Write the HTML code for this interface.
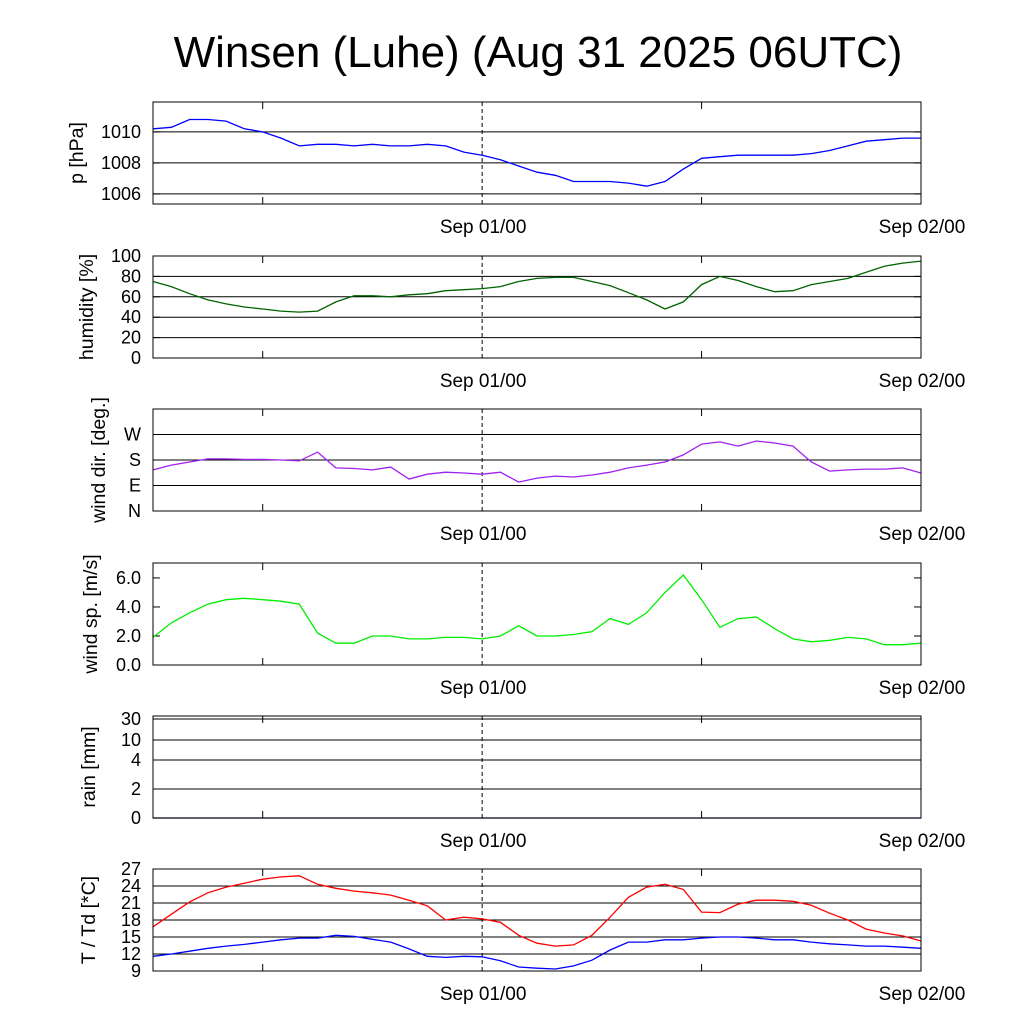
<!DOCTYPE html>
<html><head><meta charset="utf-8"><style>
body{margin:0;background:#fff}
svg{display:block;font-family:"Liberation Sans",sans-serif}
</style></head><body>
<svg id="c" width="1024" height="1024" viewBox="0 0 1024 1024">
<text x="538" y="67" font-size="44" text-anchor="middle">Winsen (Luhe) (Aug 31 2025 06UTC)</text>
</svg>
<script>
const hours=[0,1,2,3,4,5,6,7,8,9,10,11,12,13,14,15,16,17,18,19,20,21,22,23,24,25,26,27,28,29,30,31,32,33,34,35,36,37,38,39,40,41,42];
const xTickLabels=["Sep 01/00","Sep 02/00"];
const xTickHours=[18,42];
const pressure=[1010.2,1010.3,1010.8,1010.8,1010.7,1010.2,1010.0,1009.6,1009.1,1009.2,1009.2,1009.1,1009.2,1009.1,1009.1,1009.2,1009.1,1008.7,1008.5,1008.2,1007.8,1007.4,1007.2,1006.8,1006.8,1006.8,1006.7,1006.5,1006.8,1007.6,1008.3,1008.4,1008.5,1008.5,1008.5,1008.5,1008.6,1008.8,1009.1,1009.4,1009.5,1009.6,1009.6];
const humidity=[75,70,63,57,53,50,48,46,45,46,55,61,61,60,62,63,66,67,68,70,75,78,79,79,75,71,64,57,48,55,72,80,76,70,65,66,72,75,78,84,90,93,95];
const windDir=[145,162,173,184,184,182,182,180,177,208,152,150,145,155,113,130,137,134,130,137,102,116,123,120,127,137,152,162,173,198,236,244,229,247,240,229,173,141,145,148,148,152,134];
const windSpeed=[1.9,2.9,3.6,4.2,4.5,4.6,4.5,4.4,4.2,2.2,1.5,1.5,2.0,2.0,1.8,1.8,1.9,1.9,1.8,2.0,2.7,2.0,2.0,2.1,2.3,3.2,2.8,3.6,5.0,6.2,4.5,2.6,3.2,3.3,2.5,1.8,1.6,1.7,1.9,1.8,1.4,1.4,1.5];
const rain=[0,0,0,0,0,0,0,0,0,0,0,0,0,0,0,0,0,0,0,0,0,0,0,0,0,0,0,0,0,0,0,0,0,0,0,0,0,0,0,0,0,0,0];
const temp=[16.8,19,21.2,22.8,23.8,24.5,25.2,25.6,25.8,24.3,23.6,23.1,22.8,22.4,21.5,20.5,18,18.5,18.2,17.6,15.3,13.9,13.4,13.6,15.3,18.5,22,23.8,24.3,23.4,19.4,19.3,20.8,21.5,21.5,21.3,20.6,19.2,18,16.4,15.7,15.2,14.3];
const dew=[11.6,12,12.5,13,13.4,13.7,14.1,14.5,14.8,14.8,15.3,15.1,14.6,14.1,12.9,11.6,11.4,11.6,11.5,10.8,9.7,9.5,9.35,9.9,10.9,12.7,14.1,14.1,14.5,14.5,14.8,15,15,14.8,14.5,14.5,14.1,13.8,13.6,13.4,13.4,13.2,13.0];
const pTicks=[1006,1008,1010], pTickLabels=["1006","1008","1010"];
const hTicks=[0,20,40,60,80,100];
const dTicks=[0,90,180,270], dTickLabels=["N","E","S","W"];
const sTicks=[0,2,4,6], sTickLabels=["0.0","2.0","4.0","6.0"];
const rTicks=[0,2,4,10,30];
const tTicks=[9,12,15,18,21,24,27];
const minorTickHours=[6,30];

const NS="http://www.w3.org/2000/svg";
const svg=document.getElementById('c');
const X0=153,X1=921;
function xs(h){return X0+(X1-X0)*h/42;}
function el(tag,attrs,parent){const e=document.createElementNS(NS,tag);for(const k in attrs)e.setAttribute(k,attrs[k]);(parent||svg).appendChild(e);return e;}
function panel(name,top,ys,ticks,labels,grid,label,labelX,series,colors){
  const g=el('g',{});
  
  
  const bot=top+102;
  ticks.forEach((t,i)=>{
    const y=ys(t);
    if(grid&&y>top+1&&y<bot-1){const l=el('line',{x1:X0,x2:X1,y1:y,y2:y,stroke:'#000','stroke-width':1},g);}
    el('line',{x1:X0,x2:X0+7,y1:y,y2:y,stroke:'#000'},g);
    el('line',{x1:X1-7,x2:X1,y1:y,y2:y,stroke:'#000'},g);
    const tx=el('text',{x:X0-12,y:y+6,'font-size':18,'text-anchor':'end'},g);
    tx.textContent=labels?labels[i]:String(t);
    
    
  });
  minorTickHours.forEach(h=>{const x=xs(h);
    el('line',{x1:x,x2:x,y1:bot,y2:bot-7,stroke:'#000'},g);el('line',{x1:x,x2:x,y1:top,y2:top+7,stroke:'#000'},g);});
  const dl=el('line',{x1:xs(18),x2:xs(18),y1:top,y2:bot,stroke:'#000','stroke-dasharray':'4,3'},g);
  
  
  series.forEach((s,si)=>{
    const pts=s.map((v,i)=>xs(hours[i]).toFixed(1)+','+ys(v).toFixed(1)).join(' ');
    const pl=el('polyline',{points:pts,fill:'none',stroke:colors[si],'stroke-width':1.3},g);
    
    
  });
  const r=el('rect',{x:X0,y:top,width:X1-X0,height:102,fill:'none',stroke:'#000'},g);
  
  
  const cy=(top+bot)/2;
  const yl=el('text',{x:0,y:0,'font-size':19.5,'text-anchor':'middle',transform:`translate(${labelX},${cy}) rotate(-90)`},g);
  yl.textContent=label;
  
  
  xTickHours.forEach((h,i)=>{const t=el('text',{x:xs(h)+1,y:bot+29,'font-size':19,'text-anchor':'middle'},g);t.textContent=xTickLabels[i];
    
    });
}
function lin(top,v0,v1){return v=>top+102-(v-v0)/(v1-v0)*102;}
panel('pressure',102,lin(102,1005.35,1011.93),pTicks,pTickLabels,true,'p [hPa]',83,[pressure],['#0000ff']);
panel('humidity',256,lin(256,0,100),hTicks,null,true,'humidity [%]',93,[humidity],['#006400']);
panel('wind-direction',409,lin(409,0,360),dTicks,dTickLabels,true,'wind dir. [deg.]',105,[windDir],['#a020f0']);
panel('wind-speed',563,lin(563,0,7.03),sTicks,sTickLabels,false,'wind sp. [m/s]',97,[windSpeed],['#00ee00']);
const rv=[0,2,4,10,30],ro=[0,29,58,78,99];
function rs(v){for(let i=1;i<rv.length;i++){if(v<=rv[i]){return 818-(ro[i-1]+(v-rv[i-1])/(rv[i]-rv[i-1])*(ro[i]-ro[i-1]));}}return 719;}
panel('rain',716,rs,rTicks,null,true,'rain [mm]',95,[rain],['#00008b']);
panel('temperature',869,lin(869,9,27),tTicks,null,true,'T / Td [*C]',95,[temp,dew],['#ff0000','#0000ff']);
</script>
</body></html>
